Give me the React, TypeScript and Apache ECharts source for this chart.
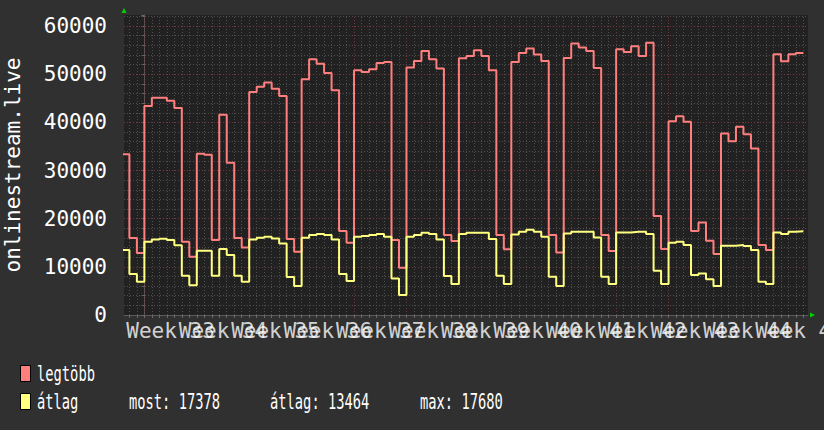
import React, { useEffect, useRef } from "react";
import * as echarts from "echarts";

// Daily values, first value = Friday before week 33 (day index -3, Monday of week 33 = 0)
const FIRST_DAY = -3;
const legtobb = [
  33400, 16000, 12900,
  43400, 45100, 45100, 44500, 43000, 15200, 12100,
  33500, 33300, 15560, 41600, 31600, 16000, 14000,
  46300, 47400, 48300, 47000, 45500, 15800, 13140,
  48960, 53100, 52200, 50270, 46680, 17430, 15000,
  50830, 50480, 51040, 52350, 52560, 15560, 9800,
  51380, 52770, 54840, 53110, 51170, 16600, 15350,
  53300, 53800, 54980, 53800, 50830, 16600, 13630,
  52560, 54430, 55330, 54080, 52770, 16600, 13000,
  53390, 56370, 55540, 54840, 51310, 16600, 13280,
  55190, 54600, 55800, 53760, 56540, 20550, 13730,
  40250, 41290, 40110, 17430, 19220, 15420, 12650,
  37690, 36100, 39070, 37550, 34580, 14520, 13480,
  54150, 52700, 54150, 54430,
];
const atlag = [
  13500, 8500, 6900,
  15200, 15700, 15850, 15560, 14500, 8150, 6200,
  13350, 13350, 8150, 13700, 12450, 8150, 6900,
  15700, 16050, 16250, 15900, 14870, 7900, 6000,
  16050, 16600, 16800, 16600, 15700, 8500, 7050,
  16250, 16400, 16600, 16800, 16250, 7600, 4150,
  16250, 16600, 17080, 16800, 15700, 8090, 6430,
  16800, 17080, 17080, 17080, 15770, 8150, 6430,
  16740, 17290, 17680, 17290, 16250, 7950, 6020,
  16950, 17290, 17290, 17290, 16110, 7950, 6430,
  17150, 17150, 17290, 17290, 16800, 9200, 6430,
  15000, 15200, 14520, 8300, 8640, 7400, 6020,
  14380, 14380, 14520, 14310, 13480, 6920, 6430,
  17150, 16800, 17290, 17378,
];
const weekNumbers = [33, 34, 35, 36, 37, 38, 39, 40, 41, 42, 43, 44, 45];
const yTickLabels = [0, 10000, 20000, 30000, 40000, 50000, 60000];
const legendStats = ["most: 17378", "átlag: 13464", "max: 17680"];
const seriesNames = ["legtöbb", "átlag"];

// x axis unit: 1/100 day (integer extents)
const U = 100;
const X_MIN = -272;
const X_MAX = 8862;
const Y_MAX = 62300;
const FONT = "DejaVu Sans Mono";
const RED = "#ff7f7f";
const YELLOW = "#ffff80";
const MINOR = "#4f4f4f";
const MAJOR = "#74393a";

function toSteps(values: number[]) {
  const pts = values.map((v, i) => [(FIRST_DAY + i) * U, v]);
  pts.push([(FIRST_DAY + values.length) * U, values[values.length - 1]]);
  return pts;
}

export default function App() {
  const ref = useRef<HTMLDivElement>(null);
  useEffect(() => {
    if (!ref.current) return;
    const chart = echarts.init(ref.current, undefined, { renderer: "svg" });

    const weekCenters = weekNumbers.map((_, k) => (3.5 + 7 * k) * U);
    const dayLines: number[] = [];
    for (let d = Math.ceil(X_MIN / U); d <= Math.floor(X_MAX / U); d++) dayLines.push(d);
    const hLines: number[] = [];
    for (let v = 2000; v < Y_MAX; v += 2000) hLines.push(v);

    const gridLines: any[] = [];
    dayLines.forEach((d) => {
      const major = d % 7 === 0;
      gridLines.push({
        xAxis: d * U,
        lineStyle: { color: major ? MAJOR : MINOR, type: [1, 2], width: 1 },
      });
    });
    hLines.forEach((v) => {
      const major = v % 10000 === 0;
      gridLines.push({
        yAxis: v,
        lineStyle: { color: major ? MAJOR : MINOR, type: [1, 2], width: 1 },
      });
    });

    const legendText = (x: number, y: number, text: string) => ({
      type: "text",
      x,
      y,
      scaleX: 0.655,
      style: {
        text,
        fill: "#ffffff",
        font: `21px "${FONT}"`,
        textVerticalAlign: "middle",
      },
    });

    chart.setOption({
      animation: false,
      backgroundColor: "#303030",
      grid: {
        left: 124,
        right: 16,
        top: 15,
        bottom: 115,
        show: true,
        backgroundColor: "#212121",
        borderWidth: 0,
        containLabel: false,
        outerBoundsMode: "none",
      },
      xAxis: {
        type: "value",
        min: X_MIN,
        max: X_MAX,
        splitLine: { show: false },
        axisLine: { show: true, lineStyle: { color: "#5a5a5a", width: 1 } },
        axisTick: {
          show: true,
          customValues: dayLines.map((d) => d * U),
          length: 3,
          lineStyle: { color: "#6a6a6a" },
        },
        axisLabel: { show: false },
      },
      yAxis: {
        type: "value",
        min: 0,
        max: Y_MAX,
        interval: 2000,
        name: "onlinestream.live",
        nameLocation: "middle",
        nameGap: 101,
        nameRotate: 90,
        nameTextStyle: { color: "#ffffff", fontFamily: FONT, fontSize: 21 },
        splitLine: { show: false },
        axisLine: { show: true, lineStyle: { color: "#5a5a5a", width: 1 } },
        axisTick: { show: true, length: 3, lineStyle: { color: "#6a6a6a" } },
        axisLabel: {
          customValues: yTickLabels,
          formatter: (v: number) => String(v),
          color: "#ffffff",
          fontFamily: FONT,
          fontSize: 21,
          margin: 17,
          showMinLabel: true,
          showMaxLabel: true,
        },
      },
      series: [
        {
          type: "line",
          data: [],
          silent: true,
          markLine: {
            z: 1,
            silent: true,
            symbol: "none",
            label: { show: false },
            emphasis: { disabled: true },
            data: gridLines,
          },
        },
        {
          name: seriesNames[0],
          type: "line",
          step: "end",
          showSymbol: false,
          z: 3,
          data: toSteps(legtobb),
          lineStyle: { color: RED, width: 2 },
          itemStyle: { color: RED },
        },
        {
          name: seriesNames[1],
          type: "line",
          step: "end",
          showSymbol: false,
          z: 4,
          data: toSteps(atlag),
          lineStyle: { color: YELLOW, width: 2 },
          itemStyle: { color: YELLOW },
        },
        {
          // week labels along the time axis (placed via the axis scale)
          type: "scatter",
          silent: true,
          clip: false,
          symbol: "circle",
          symbolSize: 1,
          itemStyle: { color: "rgba(0,0,0,0)" },
          z: 5,
          data: weekCenters.map((c, k) => ({ value: [c, 0], name: "Week " + weekNumbers[k] })),
          label: {
            show: true,
            position: "bottom",
            distance: 5,
            formatter: (p: any) => p.name,
            color: "#ffffff",
            fontFamily: FONT,
            fontSize: 21,
          },
          labelLayout: { hideOverlap: false },
        },
      ],
      graphic: [
        {
          type: "polygon",
          shape: { points: [[121.5, 13], [126.5, 13], [124, 8]] },
          style: { fill: "#00d000" },
        },
        {
          type: "polygon",
          shape: { points: [[810, 312.5], [810, 317.5], [815, 315]] },
          style: { fill: "#00d000" },
        },
        {
          type: "rect",
          shape: { x: 20.5, y: 365.5, width: 10, height: 16 },
          style: { fill: RED, stroke: "#000000", lineWidth: 1 },
        },
        {
          type: "rect",
          shape: { x: 20.5, y: 393.5, width: 10, height: 16 },
          style: { fill: YELLOW, stroke: "#000000", lineWidth: 1 },
        },
        legendText(37, 374, seriesNames[0]),
        legendText(37, 402, seriesNames[1]),
        legendText(129, 402, legendStats[0]),
        legendText(270, 402, legendStats[1]),
        legendText(420, 402, legendStats[2]),
      ],
    });
    return () => chart.dispose();
  }, []);

  return (
    <div
      ref={ref}
      style={{ position: "fixed", left: 0, top: 0, width: 824, height: 430 }}
    />
  );
}
